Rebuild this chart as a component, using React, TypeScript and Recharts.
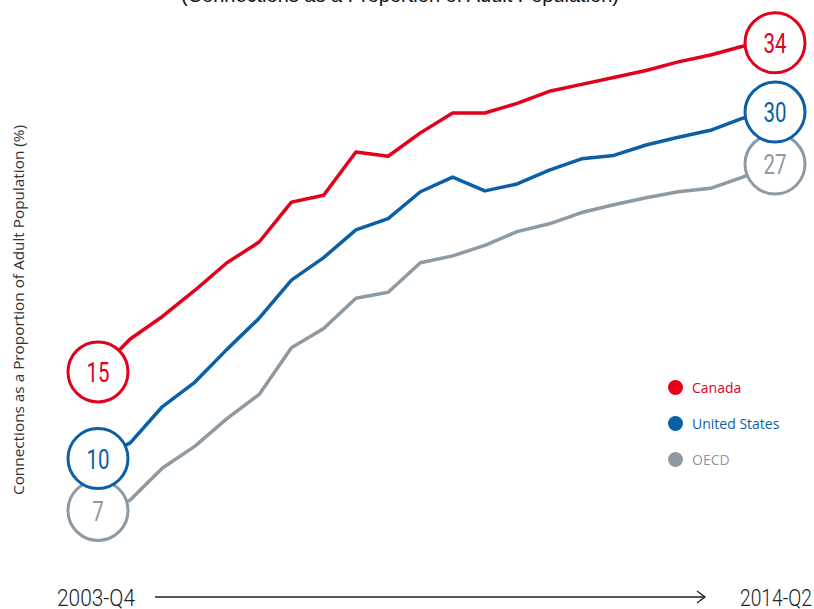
import React from 'react';
import { LineChart, Line, XAxis, YAxis } from 'recharts';

// half-yearly readings, 2003-Q4 through 2014-Q2
const periods = [
  '2003-Q4', '2004-Q2', '2004-Q4', '2005-Q2', '2005-Q4', '2006-Q2', '2006-Q4', '2007-Q2',
  '2007-Q4', '2008-Q2', '2008-Q4', '2009-Q2', '2009-Q4', '2010-Q2', '2010-Q4', '2011-Q2',
  '2011-Q4', '2012-Q2', '2012-Q4', '2013-Q2', '2013-Q4', '2014-Q2',
];

const canada = [
  15, 16.9, 18.2, 19.7, 21.3, 22.5, 24.8, 25.2, 27.7, 27.45, 28.8,
  29.95, 29.95, 30.5, 31.2, 31.6, 32.0, 32.4, 32.9, 33.3, 33.8, 34,
];
const unitedStates = [
  10, 10.9, 13.0, 14.4, 16.3, 18.1, 20.3, 21.6, 23.2, 23.85, 25.4,
  26.25, 25.45, 25.85, 26.65, 27.3, 27.5, 28.1, 28.55, 28.95, 29.65, 30,
];
const oecd = [
  7, 7.6, 9.45, 10.7, 12.3, 13.7, 16.4, 17.5, 19.25, 19.6, 21.3,
  21.7, 22.3, 23.1, 23.55, 24.2, 24.65, 25.05, 25.4, 25.6, 26.25, 27,
];

const data = periods.map((period, i) => ({
  period,
  canada: canada[i],
  unitedStates: unitedStates[i],
  oecd: oecd[i],
}));

// drawing order: OECD underneath, Canada on top
const series = [
  { key: 'oecd', name: 'OECD', color: '#8d99a3' },
  { key: 'unitedStates', name: 'United States', color: '#0b5fa5' },
  { key: 'canada', name: 'Canada', color: '#e2001a' },
];
const legendOrder = ['canada', 'unitedStates', 'oecd'];

const numFont = "Roboto, 'DejaVu Sans', sans-serif";
const bodyFont = "'Open Sans', 'Noto Sans', sans-serif";

// only the first and last points get a ringed value badge
const endDot = (key: string, color: string) => (props: any) => {
  const { cx, cy, index, payload } = props;
  if (index !== 0 && index !== periods.length - 1) {
    return <g key={`${key}-${index}`} />;
  }
  const label = String(payload[key]);
  return (
    <g key={`${key}-${index}`}>
      <circle cx={cx} cy={cy} r={30} fill="#fff" stroke={color} strokeWidth={3} />
      <text
        x={cx}
        y={cy}
        dy="0.36em"
        textAnchor="middle"
        fill={color}
        fontSize={28}
        fontFamily={numFont}
        textLength={label.length * 11.5}
        lengthAdjust="spacingAndGlyphs"
      >
        {label}
      </text>
    </g>
  );
};

export default function App() {
  return (
    <div style={{ position: 'absolute', left: 0, top: 0, width: 814, height: 609, background: '#fff' }}>
      <LineChart
        width={814}
        height={609}
        data={data}
        margin={{ top: 25.5, right: 39, bottom: 46.6, left: 98 }}
      >
        <XAxis dataKey="period" hide />
        <YAxis type="number" domain={[4, 35]} hide />
        {series.map((s) => (
          <Line
            key={s.key}
            type="linear"
            dataKey={s.key}
            name={s.name}
            stroke={s.color}
            strokeWidth={3.5}
            strokeLinejoin="round"
            dot={endDot(s.key, s.color)}
            activeDot={false}
            isAnimationActive={false}
          />
        ))}
      </LineChart>

      {/* legend */}
      <div style={{ position: 'absolute', left: 668, top: 369, width: 140 }}>
        {legendOrder.map((k) => {
          const s = series.find((x) => x.key === k)!;
          return (
            <div key={k} style={{ display: 'flex', alignItems: 'center', height: 36 }}>
              <span
                style={{
                  width: 15,
                  height: 15,
                  borderRadius: '50%',
                  background: s.color,
                  marginRight: 9,
                }}
              />
              <span style={{ color: s.color, fontSize: 14, fontFamily: bodyFont }}>{s.name}</span>
            </div>
          );
        })}
      </div>

      <svg
        width={814}
        height={609}
        style={{ position: 'absolute', left: 0, top: 0, pointerEvents: 'none' }}
      >
        <text
          x={400}
          y={2}
          textAnchor="middle"
          fontSize={20}
          fontFamily="'Liberation Sans', Arial, sans-serif"
          fill="#111"
        >
          (Connections as a Proportion of Adult Population)
        </text>
        <text
          x={20}
          y={310}
          transform="rotate(-90, 20, 310)"
          textAnchor="middle"
          dominantBaseline="middle"
          fontSize={14.5}
          fontFamily={bodyFont}
          fill="#333"
          textLength={370}
          lengthAdjust="spacingAndGlyphs"
        >
          Connections as a Proportion of Adult Population (%)
        </text>
        <text
          x={57}
          y={606}
          fontSize={23}
          fontWeight={300}
          fontFamily={numFont}
          fill="#222"
          textLength={78}
          lengthAdjust="spacingAndGlyphs"
        >
          2003-Q4
        </text>
        <text
          x={740}
          y={606}
          fontSize={23}
          fontWeight={300}
          fontFamily={numFont}
          fill="#222"
          textLength={72}
          lengthAdjust="spacingAndGlyphs"
        >
          2014-Q2
        </text>
        <line x1={155} y1={597} x2={705} y2={597} stroke="#222" strokeWidth={1.3} />
        <polyline
          points="697,591 705,597 697,603"
          fill="none"
          stroke="#222"
          strokeWidth={1.3}
        />
      </svg>
    </div>
  );
}
